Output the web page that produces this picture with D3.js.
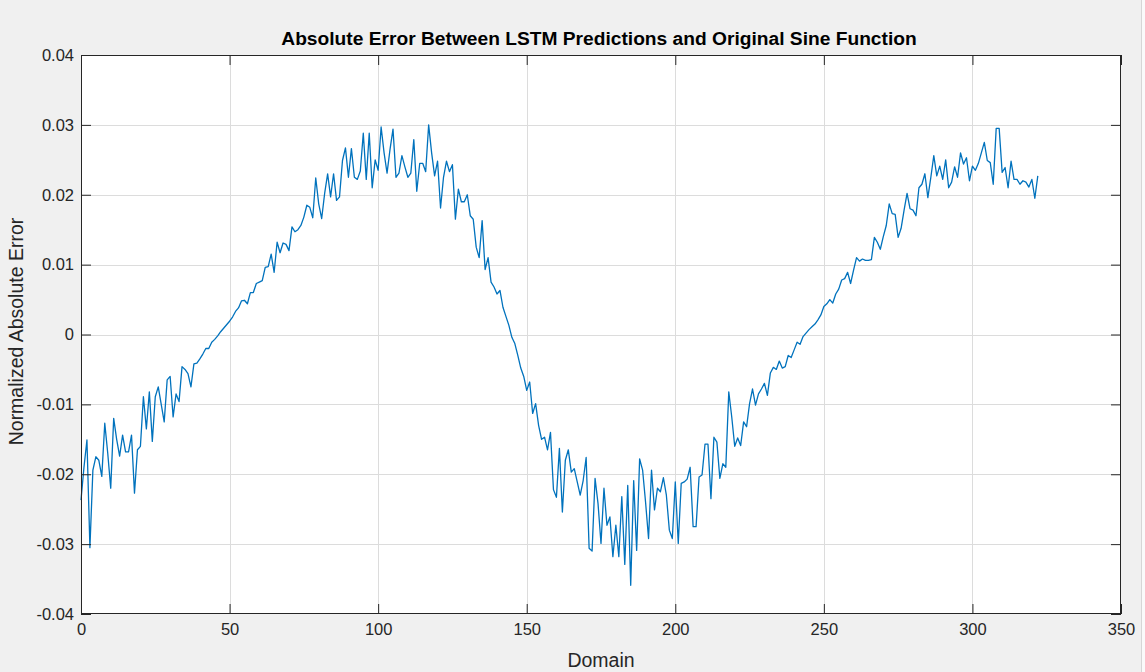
<!DOCTYPE html>
<html>
<head>
<meta charset="utf-8">
<script src="https://cdn.jsdelivr.net/npm/d3@7"></script>
<style>
  html, body { margin: 0; padding: 0; background: #f0f0f0; }
  svg { display: block; font-family: "Liberation Sans", Arial, Helvetica, sans-serif; }
</style>
</head>
<body>
<svg id="chart" width="1145" height="672"></svg>
<script>
// Absolute error of the LSTM prediction at each domain step (0..322)
const errorValues = [
  -0.0237, -0.0190, -0.0151, -0.0305, -0.0194, -0.0175, -0.0180, -0.0203, -0.0127, -0.0170,
  -0.0220, -0.0120, -0.0150, -0.0174, -0.0144, -0.0168, -0.0168, -0.0144, -0.0227, -0.0165,
  -0.0160, -0.0089, -0.0135, -0.0082, -0.0153, -0.0089, -0.0075, -0.0100, -0.0125, -0.0065,
  -0.0060, -0.0118, -0.0085, -0.0096, -0.0046, -0.0050, -0.0056, -0.0075, -0.0042, -0.0041,
  -0.0035, -0.0028, -0.0020, -0.0020, -0.0011, -0.0007, -0.0002, 0.0004, 0.0009, 0.0014,
  0.0019, 0.0025, 0.0033, 0.0038, 0.0048, 0.0049, 0.0044, 0.0060, 0.0060, 0.0073,
  0.0075, 0.0077, 0.0096, 0.0097, 0.0115, 0.0089, 0.0132, 0.0117, 0.0131, 0.0129,
  0.0120, 0.0154, 0.0147, 0.0150, 0.0156, 0.0168, 0.0185, 0.0182, 0.0167, 0.0224,
  0.0187, 0.0166, 0.0202, 0.0230, 0.0197, 0.0230, 0.0192, 0.0197, 0.0249, 0.0267,
  0.0225, 0.0266, 0.0225, 0.0222, 0.0234, 0.0288, 0.0222, 0.0288, 0.0210, 0.0250,
  0.0235, 0.0297, 0.0260, 0.0231, 0.0265, 0.0294, 0.0225, 0.0231, 0.0256, 0.0240,
  0.0225, 0.0231, 0.0279, 0.0205, 0.0245, 0.0245, 0.0233, 0.0300, 0.0260, 0.0227,
  0.0248, 0.0181, 0.0225, 0.0248, 0.0233, 0.0243, 0.0165, 0.0208, 0.0190, 0.0190,
  0.0200, 0.0170, 0.0165, 0.0125, 0.0110, 0.0163, 0.0093, 0.0110, 0.0075, 0.0068,
  0.0058, 0.0063, 0.0039, 0.0026, 0.0013, -0.0004, -0.0013, -0.0030, -0.0048, -0.0060,
  -0.0080, -0.0068, -0.0113, -0.0099, -0.0130, -0.0150, -0.0147, -0.0165, -0.0140, -0.0222,
  -0.0233, -0.0163, -0.0254, -0.0180, -0.0165, -0.0197, -0.0192, -0.0211, -0.0230, -0.0209,
  -0.0176, -0.0306, -0.0310, -0.0206, -0.0242, -0.0299, -0.0220, -0.0273, -0.0261, -0.0318,
  -0.0273, -0.0318, -0.0232, -0.0329, -0.0216, -0.0359, -0.0209, -0.0309, -0.0178, -0.0194,
  -0.0240, -0.0292, -0.0194, -0.0251, -0.0220, -0.0225, -0.0205, -0.0230, -0.0280, -0.0292,
  -0.0211, -0.0299, -0.0213, -0.0211, -0.0207, -0.0190, -0.0275, -0.0275, -0.0204, -0.0201,
  -0.0157, -0.0157, -0.0235, -0.0147, -0.0154, -0.0206, -0.0185, -0.0190, -0.0082, -0.0118,
  -0.0160, -0.0148, -0.0159, -0.0125, -0.0132, -0.0099, -0.0078, -0.0101, -0.0085, -0.0078,
  -0.0070, -0.0087, -0.0055, -0.0047, -0.0050, -0.0038, -0.0048, -0.0046, -0.0030, -0.0033,
  -0.0022, -0.0011, -0.0014, -0.0003, 0.0002, 0.0007, 0.0011, 0.0015, 0.0021, 0.0028,
  0.0040, 0.0044, 0.0050, 0.0045, 0.0058, 0.0065, 0.0078, 0.0080, 0.0089, 0.0073,
  0.0092, 0.0110, 0.0105, 0.0108, 0.0106, 0.0106, 0.0107, 0.0139, 0.0132, 0.0122,
  0.0140, 0.0156, 0.0187, 0.0173, 0.0172, 0.0139, 0.0152, 0.0178, 0.0202, 0.0180,
  0.0178, 0.0170, 0.0210, 0.0215, 0.0230, 0.0196, 0.0225, 0.0256, 0.0227, 0.0241,
  0.0222, 0.0250, 0.0210, 0.0218, 0.0240, 0.0225, 0.0260, 0.0244, 0.0253, 0.0220,
  0.0241, 0.0235, 0.0245, 0.0260, 0.0275, 0.0249, 0.0246, 0.0215, 0.0295, 0.0295,
  0.0232, 0.0239, 0.0210, 0.0248, 0.0222, 0.0222, 0.0215, 0.0220, 0.0218, 0.0211,
  0.0222, 0.0195, 0.0227
];
const domainSteps = errorValues.map((_, i) => i);

const xTicks = [0, 50, 100, 150, 200, 250, 300, 350];
const yTicks = [-0.04, -0.03, -0.02, -0.01, 0, 0.01, 0.02, 0.03, 0.04];
const yTickLabels = ["-0.04", "-0.03", "-0.02", "-0.01", "0", "0.01", "0.02", "0.03", "0.04"];

const titleText = "Absolute Error Between LSTM Predictions and Original Sine Function";
const xLabelText = "Domain";
const yLabelText = "Normalized Absolute Error";

const svg = d3.select("#chart");
const box = { left: 81, right: 1121, top: 55, bottom: 614 };
const ink = "#262626";

// thin window edge on the right
svg.append("rect").attr("x", 1141).attr("y", 0).attr("width", 4).attr("height", 672).attr("fill", "#fafafa");
svg.append("line").attr("x1", 1141.5).attr("x2", 1141.5).attr("y1", 0).attr("y2", 672)
  .attr("stroke", "#d6d6d6");

const x = d3.scaleLinear().domain([0, 350]).range([box.left, box.right]);
const y = d3.scaleLinear().domain([-0.04, 0.04]).range([box.bottom, box.top]);

// axes background
svg.append("rect")
  .attr("x", box.left).attr("y", box.top)
  .attr("width", box.right - box.left).attr("height", box.bottom - box.top)
  .attr("fill", "#ffffff");

// grid
const grid = svg.append("g").attr("stroke", "#dcdcdc").attr("stroke-width", 1);
grid.selectAll(".gx").data(xTicks.slice(1, -1)).join("line")
  .attr("x1", d => Math.round(x(d)) + 0.5).attr("x2", d => Math.round(x(d)) + 0.5)
  .attr("y1", box.top).attr("y2", box.bottom);
grid.selectAll(".gy").data(yTicks.slice(1, -1)).join("line")
  .attr("y1", d => Math.round(y(d)) + 0.5).attr("y2", d => Math.round(y(d)) + 0.5)
  .attr("x1", box.left).attr("x2", box.right);

// error curve
const line = d3.line()
  .x((d, i) => x(domainSteps[i]))
  .y(d => y(d));
svg.append("path")
  .datum(errorValues)
  .attr("d", line)
  .attr("fill", "none")
  .attr("stroke", "#0072bd")
  .attr("stroke-width", 1.3)
  .attr("stroke-linejoin", "round");

// axes with inward ticks
const tickLen = 10;
const xAxis = d3.axisBottom(x).tickValues(xTicks).tickSizeInner(-tickLen).tickSizeOuter(0).tickPadding(9)
  .tickFormat(d3.format("d"));
const yAxis = d3.axisLeft(y).tickValues(yTicks).tickSizeInner(-tickLen).tickSizeOuter(0).tickPadding(7)
  .tickFormat((d, i) => yTickLabels[i]);

const gx = svg.append("g").attr("transform", `translate(0,${box.bottom})`).call(xAxis);
const gy = svg.append("g").attr("transform", `translate(${box.left},0)`).call(yAxis);
// mirrored ticks on top and right
const gxTop = svg.append("g").attr("transform", `translate(0,${box.top})`)
  .call(d3.axisTop(x).tickValues(xTicks).tickSizeInner(-tickLen).tickSizeOuter(0).tickFormat(""));
const gyRight = svg.append("g").attr("transform", `translate(${box.right},0)`)
  .call(d3.axisRight(y).tickValues(yTicks).tickSizeInner(-tickLen).tickSizeOuter(0).tickFormat(""));

[gx, gy, gxTop, gyRight].forEach(g => {
  g.select(".domain").remove();
  g.selectAll(".tick line").attr("stroke", ink).attr("stroke-width", 1);
  g.selectAll(".tick text").attr("fill", ink).attr("font-size", 16.5).attr("font-family", "Liberation Sans, Arial, sans-serif");
});

// frame
svg.append("rect")
  .attr("x", box.left + 0.5).attr("y", box.top + 0.5)
  .attr("width", box.right - box.left - 1).attr("height", box.bottom - box.top - 1)
  .attr("fill", "none").attr("stroke", ink).attr("stroke-width", 1);

// titles
svg.append("text")
  .attr("x", (box.left + box.right) / 2 - 2).attr("y", 45)
  .attr("text-anchor", "middle")
  .attr("font-size", 19.2).attr("font-weight", "bold").attr("fill", "#000")
  .text(titleText);

svg.append("text")
  .attr("x", (box.left + box.right) / 2).attr("y", 667)
  .attr("text-anchor", "middle")
  .attr("font-size", 19.5).attr("fill", ink)
  .text(xLabelText);

svg.append("text")
  .attr("transform", `translate(23,${(box.top + box.bottom) / 2 - 3}) rotate(-90)`)
  .attr("text-anchor", "middle")
  .attr("font-size", 19.5).attr("fill", ink)
  .text(yLabelText);
</script>
</body>
</html>
